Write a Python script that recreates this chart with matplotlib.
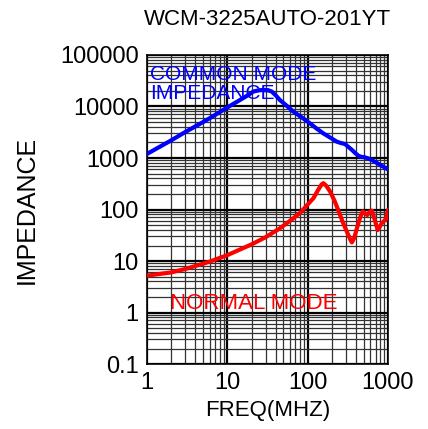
import numpy as np
import matplotlib.pyplot as plt
from matplotlib.ticker import LogLocator, FixedFormatter, FixedLocator, NullFormatter

plt.rcParams['font.family'] = ['Liberation Sans', 'DejaVu Sans']

# common mode impedance
cm_freq = [1, 2, 3, 5, 7, 10, 14.4, 18, 21, 25, 28, 32, 35.7, 40, 45, 55, 66, 85, 107, 130,
           157, 190, 230, 260, 292, 320, 355, 390, 430, 470, 515, 570, 630, 750, 870, 1000]
cm_imp = [1200, 2200, 3200, 5000, 6800, 9600, 13400, 16500, 19500, 20700, 21000, 20800, 19500,
          16500, 13400, 10300, 8000, 6100, 4700, 3700, 3000, 2500, 2080, 1950, 1870, 1650,
          1440, 1250, 1100, 1050, 1030, 980, 910, 780, 680, 600]

# normal mode impedance
nm_freq = [1, 2, 3, 4, 6, 10, 20, 30, 45, 60, 80, 100, 118, 135, 150, 157, 170, 190, 215, 240,
           270, 308, 340, 355, 380, 410, 450, 485, 520, 552, 590, 630, 680, 745, 790, 835,
           945, 1000]
nm_imp = [5.2, 6.0, 7.0, 8.0, 9.7, 13, 21, 29, 43, 60, 85, 125, 166, 240, 310, 325, 290, 225,
          150, 98, 60, 37, 26, 23, 28, 43, 70, 92, 84, 78, 90, 95, 65, 40, 46, 54, 65, 98]

title = 'WCM-3225AUTO-201YT'
x_ticks = [1, 10, 100, 1000]
y_ticks = [0.1, 1, 10, 100, 1000, 10000, 100000]

fig = plt.figure(figsize=(4.28, 4.29), dpi=100)
ax = fig.add_axes([0.3435, 0.1515, 0.563, 0.7203])

ax.set_xscale('log')
ax.set_yscale('log')
ax.set_xlim(1, 1000)
ax.set_ylim(0.1, 100000)

ax.xaxis.set_major_locator(FixedLocator(x_ticks))
ax.xaxis.set_major_formatter(FixedFormatter([str(v) for v in x_ticks]))
ax.yaxis.set_major_locator(FixedLocator(y_ticks))
ax.yaxis.set_major_formatter(FixedFormatter(['0.1', '1', '10', '100', '1000', '10000', '100000']))
ax.xaxis.set_minor_locator(LogLocator(base=10, subs=np.arange(2, 10), numticks=20))
ax.yaxis.set_minor_locator(LogLocator(base=10, subs=np.arange(2, 10), numticks=20))
ax.xaxis.set_minor_formatter(NullFormatter())
ax.yaxis.set_minor_formatter(NullFormatter())

ax.grid(which='major', color='black', linewidth=1.6)
ax.grid(which='minor', color='#333333', linewidth=0.9)
ax.tick_params(which='both', length=0, labelsize=17, pad=6)
for s in ax.spines.values():
    s.set_linewidth(1.2)

ax.plot(cm_freq, cm_imp, color='blue', linewidth=3, zorder=3,
        solid_joinstyle='round', solid_capstyle='round')
ax.plot(nm_freq, nm_imp, color='red', linewidth=3, zorder=3,
        solid_joinstyle='round', solid_capstyle='round')

ax.text(1.08, 65000, 'COMMON MODE\nIMPEDANCE', color='blue', fontsize=15,
        va='top', ha='left', linespacing=1.0, zorder=4)
ax.text(1.95, 0.95, 'NORMAL MODE', color='red', fontsize=16, va='bottom', ha='left', zorder=4)

fig.text(0.626, 0.955, title, fontsize=16, ha='center', va='center')
ax.set_xlabel('FREQ(MHZ)', fontsize=16, labelpad=4)
ax.set_ylabel('IMPEDANCE', fontsize=18, labelpad=15)

fig.savefig('out.png', dpi=100)
